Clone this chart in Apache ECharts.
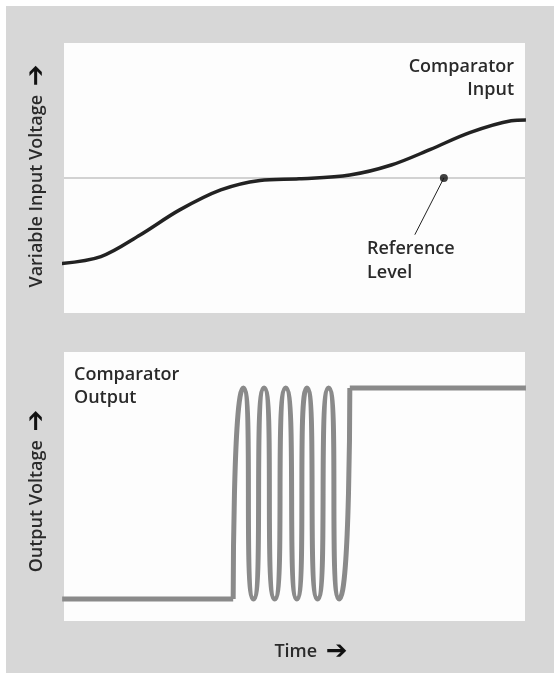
<!DOCTYPE html>
<html>
<head>
<meta charset="utf-8">
<script src="https://cdn.jsdelivr.net/npm/echarts@6/dist/echarts.min.js"></script>
<style>
html,body{margin:0;padding:0;background:#fff;}
#chart{width:554px;height:673px;}
</style>
</head>
<body>
<div id="chart"></div>
<script>
// ---- Data (time axis 0..100, voltage axis 0..10) ----
const inputTime    = [-0.8, 8, 16.5, 25, 34, 42.5, 51, 62, 71, 79.5, 88, 97, 100.2];
const inputVoltage = [1.83, 2.09, 2.89, 3.81, 4.56, 4.91, 4.97, 5.11, 5.48, 6.06, 6.68, 7.12, 7.15];
const referenceLevel = 5;
const referenceDotTime = 82.4;
const leaderEnd = [76.1, 2.9];

const lowLevel = 0.82;
const highLevel = 8.66;
const lowSegmentTime = [-0.4, 36.7];
const oscTime    = [36.7, 38.9, 41.1, 43.4, 45.7, 48.1, 50.5, 52.7, 55.0, 57.4, 59.7, 62.0];
const oscVoltage = [0.82, 8.66, 0.82, 8.66, 0.82, 8.66, 0.82, 8.66, 0.82, 8.66, 0.82, 8.66];
const highSegmentTime = [62.0, 100.2];

const labels = {
  topAxis: 'Variable Input Voltage',
  bottomAxis: 'Output Voltage',
  xAxis: 'Time',
  compIn: ['Comparator', 'Input'],
  ref: ['Reference', 'Level'],
  compOut: ['Comparator', 'Output']
};

// ---- Build ----
const zip = (xs, ys) => xs.map((x, i) => [x, ys[i]]);
const FONT = '"Open Sans", "Liberation Sans", sans-serif';
const TXT = '#2a2a2a';
const FONTSTR = '600 18px ' + FONT;

const chart = echarts.init(document.getElementById('chart'), null, {renderer: 'canvas'});

const hiddenAxis = {
  axisLine: {show: false}, axisTick: {show: false}, axisLabel: {show: false}, splitLine: {show: false}
};

const outStyle = {color: '#8a8a8a', width: 5};
const arrowRich = {a: {fontSize: 26, fontWeight: 'bold', fontFamily: 'DejaVu Sans', fill: '#111', padding: [0, 0, 0, 4]}};

chart.setOption({
  backgroundColor: '#ffffff',
  animation: false,
  grid: [
    {left: 64, top: 43, width: 461, height: 270, show: true, backgroundColor: '#fdfdfd', borderWidth: 0},
    {left: 64, top: 352, width: 461, height: 269, show: true, backgroundColor: '#fdfdfd', borderWidth: 0}
  ],
  xAxis: [
    Object.assign({type: 'value', gridIndex: 0, min: 0, max: 100}, hiddenAxis),
    Object.assign({type: 'value', gridIndex: 1, min: 0, max: 100}, hiddenAxis)
  ],
  yAxis: [
    Object.assign({type: 'value', gridIndex: 0, min: 0, max: 10}, hiddenAxis),
    Object.assign({type: 'value', gridIndex: 1, min: 0, max: 10}, hiddenAxis)
  ],
  series: [
    {
      type: 'line', xAxisIndex: 0, yAxisIndex: 0, symbol: 'none', silent: true,
      data: [[0, referenceLevel], [100, referenceLevel]],
      lineStyle: {color: '#d2d2d2', width: 2}, z: 1
    },
    {
      type: 'line', xAxisIndex: 0, yAxisIndex: 0, symbol: 'none', smooth: 0.33, clip: false,
      data: zip(inputTime, inputVoltage),
      lineStyle: {color: '#222222', width: 3.5}, z: 3
    },
    {
      type: 'line', xAxisIndex: 0, yAxisIndex: 0, symbol: 'none',
      data: [[referenceDotTime, referenceLevel], leaderEnd],
      lineStyle: {color: '#222222', width: 1}, z: 3
    },
    {
      type: 'scatter', xAxisIndex: 0, yAxisIndex: 0,
      data: [[referenceDotTime, referenceLevel]],
      symbolSize: 8, itemStyle: {color: '#111111'}, z: 4
    },
    {
      type: 'line', xAxisIndex: 1, yAxisIndex: 1, symbol: 'none', clip: false,
      data: lowSegmentTime.map(t => [t, lowLevel]),
      lineStyle: outStyle
    },
    {
      type: 'line', xAxisIndex: 1, yAxisIndex: 1, symbol: 'none', smooth: 1, clip: false,
      data: zip(oscTime, oscVoltage),
      lineStyle: outStyle
    },
    {
      type: 'line', xAxisIndex: 1, yAxisIndex: 1, symbol: 'none', clip: false,
      data: highSegmentTime.map(t => [t, highLevel]),
      lineStyle: outStyle
    }
  ],
  graphic: [
    {type: 'rect', z: -100, shape: {x: 6, y: 6, width: 548, height: 667}, style: {fill: '#d7d7d7'}, silent: true},
    {
      type: 'text', x: 37, y: 176, rotation: Math.PI / 2, z: 10,
      style: {
        text: labels.topAxis + ' {a|➔}', align: 'center', verticalAlign: 'middle',
        font: FONTSTR, fill: TXT, rich: arrowRich
      }
    },
    {
      type: 'text', x: 37, y: 491, rotation: Math.PI / 2, z: 10,
      style: {
        text: labels.bottomAxis + ' {a|➔}', align: 'center', verticalAlign: 'middle',
        font: FONTSTR, fill: TXT, rich: arrowRich
      }
    },
    {
      type: 'text', x: 311, y: 652, z: 10,
      style: {
        text: labels.xAxis + ' {a|➔}', align: 'center', verticalAlign: 'middle',
        font: FONTSTR, fill: TXT, rich: arrowRich
      }
    },
    {
      type: 'text', x: 514, y: 78, z: 10,
      style: {text: labels.compIn.join('\n'), align: 'right', verticalAlign: 'middle', font: FONTSTR, lineHeight: 23, fill: TXT}
    },
    {
      type: 'text', x: 367, y: 261, z: 10,
      style: {text: labels.ref.join('\n'), align: 'left', verticalAlign: 'middle', font: FONTSTR, lineHeight: 24, fill: TXT}
    },
    {
      type: 'text', x: 74, y: 386, z: 10,
      style: {text: labels.compOut.join('\n'), align: 'left', verticalAlign: 'middle', font: FONTSTR, lineHeight: 23, fill: TXT}
    }
  ]
});
</script>
</body>
</html>
